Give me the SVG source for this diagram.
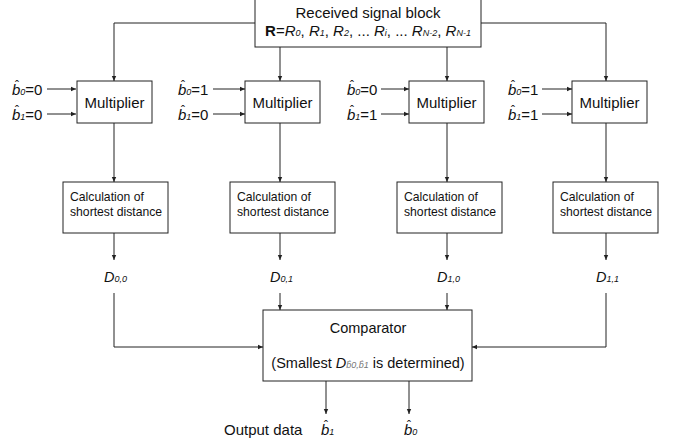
<svg xmlns="http://www.w3.org/2000/svg" width="680" height="445" viewBox="0 0 680 445">
<defs>
<marker id="ah" markerWidth="6" markerHeight="6" refX="5" refY="3" orient="auto" markerUnits="userSpaceOnUse">
<path d="M0,0.8 L5,3 L0,5.2 Z" fill="#222"/>
</marker>
<style>
.box{fill:#fff;stroke:#222;stroke-width:1}
.ar{fill:none;stroke:#222;stroke-width:1;marker-end:url(#ah)}
text{font-family:"Liberation Sans",Arial,sans-serif;fill:#111}
.t15{font-size:15px}
.t14{font-size:14.5px}
.t12{font-size:12.2px}
.it{font-style:italic}
.sub{font-size:9px;font-style:italic}
.hat{font-size:12px}
</style>
</defs>
<g id="connectors">
<path class="ar" d="M255,23 H114 V81"/>
<path class="ar" d="M481,23 H606 V81"/>
<path class="ar" d="M280,47 V81"/>
<path class="ar" d="M447,47 V81"/>
<path class="ar" d="M47,89 H76"/>
<path class="ar" d="M47,114 H76"/>
<path class="ar" d="M213,89 H245"/>
<path class="ar" d="M213,114 H245"/>
<path class="ar" d="M381,89 H409"/>
<path class="ar" d="M381,114 H409"/>
<path class="ar" d="M542,89 H572"/>
<path class="ar" d="M542,114 H572"/>
<path class="ar" d="M114,123 V182"/>
<path class="ar" d="M280,123 V182"/>
<path class="ar" d="M447,123 V182"/>
<path class="ar" d="M606,123 V182"/>
<path class="ar" d="M114,233 V260"/>
<path class="ar" d="M280,233 V260"/>
<path class="ar" d="M447,233 V260"/>
<path class="ar" d="M606,233 V260"/>
<path class="ar" d="M114,293 V347 H263"/>
<path class="ar" d="M606,293 V347 H472"/>
<path class="ar" d="M280,293 V310"/>
<path class="ar" d="M447,293 V310"/>
<path class="ar" d="M326,381 V414"/>
<path class="ar" d="M409,381 V414"/>
</g>
<g id="received">
<rect class="box" x="255" y="-1" width="226" height="48"/>
<text class="t15" x="368" y="18" text-anchor="middle">Received signal block</text>
<text class="t15" x="368" y="36" text-anchor="middle"><tspan font-weight="bold">R</tspan>=<tspan class="it">R</tspan><tspan class="sub">0</tspan>, <tspan class="it">R</tspan><tspan class="sub">1</tspan>, <tspan class="it">R</tspan><tspan class="sub">2</tspan>, ... <tspan class="it">R</tspan><tspan class="sub">i</tspan>, ... <tspan class="it">R</tspan><tspan class="sub">N-2</tspan>, <tspan class="it">R</tspan><tspan class="sub">N-1</tspan></text>
</g>
<g id="inputs">
<text class="t15" x="12" y="95"><tspan class="it">b</tspan><tspan class="hat" dx="-5.3" dy="-5">ˆ</tspan><tspan class="sub" dx="1.3" dy="5">0</tspan>=0</text>
<text class="t15" x="12" y="120"><tspan class="it">b</tspan><tspan class="hat" dx="-5.3" dy="-5">ˆ</tspan><tspan class="sub" dx="1.3" dy="5">1</tspan>=0</text>
<text class="t15" x="178" y="95"><tspan class="it">b</tspan><tspan class="hat" dx="-5.3" dy="-5">ˆ</tspan><tspan class="sub" dx="1.3" dy="5">0</tspan>=1</text>
<text class="t15" x="178" y="120"><tspan class="it">b</tspan><tspan class="hat" dx="-5.3" dy="-5">ˆ</tspan><tspan class="sub" dx="1.3" dy="5">1</tspan>=0</text>
<text class="t15" x="347" y="95"><tspan class="it">b</tspan><tspan class="hat" dx="-5.3" dy="-5">ˆ</tspan><tspan class="sub" dx="1.3" dy="5">0</tspan>=0</text>
<text class="t15" x="347" y="120"><tspan class="it">b</tspan><tspan class="hat" dx="-5.3" dy="-5">ˆ</tspan><tspan class="sub" dx="1.3" dy="5">1</tspan>=1</text>
<text class="t15" x="508" y="95"><tspan class="it">b</tspan><tspan class="hat" dx="-5.3" dy="-5">ˆ</tspan><tspan class="sub" dx="1.3" dy="5">0</tspan>=1</text>
<text class="t15" x="508" y="120"><tspan class="it">b</tspan><tspan class="hat" dx="-5.3" dy="-5">ˆ</tspan><tspan class="sub" dx="1.3" dy="5">1</tspan>=1</text>
</g>
<g id="mult1"><rect class="box" x="77" y="81" width="75" height="42"/><text class="t15" x="114.5" y="108" text-anchor="middle">Multiplier</text></g>
<g id="mult2"><rect class="box" x="245" y="81" width="75" height="42"/><text class="t15" x="282.5" y="108" text-anchor="middle">Multiplier</text></g>
<g id="mult3"><rect class="box" x="409" y="81" width="75" height="42"/><text class="t15" x="446.5" y="108" text-anchor="middle">Multiplier</text></g>
<g id="mult4"><rect class="box" x="572" y="81" width="75" height="42"/><text class="t15" x="609.5" y="108" text-anchor="middle">Multiplier</text></g>
<g id="calc1"><rect class="box" x="63" y="182" width="105" height="51"/><text class="t12" x="70" y="201">Calculation of</text><text class="t12" x="70" y="216">shortest distance</text></g>
<g id="calc2"><rect class="box" x="230" y="182" width="105" height="51"/><text class="t12" x="237" y="201">Calculation of</text><text class="t12" x="237" y="216">shortest distance</text></g>
<g id="calc3"><rect class="box" x="397" y="182" width="105" height="51"/><text class="t12" x="404" y="201">Calculation of</text><text class="t12" x="404" y="216">shortest distance</text></g>
<g id="calc4"><rect class="box" x="553" y="182" width="105" height="51"/><text class="t12" x="560" y="201">Calculation of</text><text class="t12" x="560" y="216">shortest distance</text></g>
<g id="dlabels">
<text class="t14 it" x="104" y="282">D<tspan class="sub">0,0</tspan></text>
<text class="t14 it" x="270" y="282">D<tspan class="sub">0,1</tspan></text>
<text class="t14 it" x="437" y="282">D<tspan class="sub">1,0</tspan></text>
<text class="t14 it" x="596" y="282">D<tspan class="sub">1,1</tspan></text>
</g>
<g id="comparator">
<rect class="box" x="263" y="310" width="209" height="71"/>
<text class="t14" x="368" y="333" text-anchor="middle">Comparator</text>
<text class="t14" x="368" y="368" text-anchor="middle">(Smallest <tspan class="it">D</tspan><tspan class="sub" font-size="7px" fill="#777">b̂0,b̂1</tspan> is determined)</text>
</g>
<g id="output">
<text class="t15" x="224" y="435">Output data</text>
<text class="t15" x="321" y="435"><tspan class="it">b</tspan><tspan class="hat" dx="-5.3" dy="-5">ˆ</tspan><tspan class="sub" dx="1.3" dy="5">1</tspan></text>
<text class="t15" x="404" y="435"><tspan class="it">b</tspan><tspan class="hat" dx="-5.3" dy="-5">ˆ</tspan><tspan class="sub" dx="1.3" dy="5">0</tspan></text>
</g>
</svg>
